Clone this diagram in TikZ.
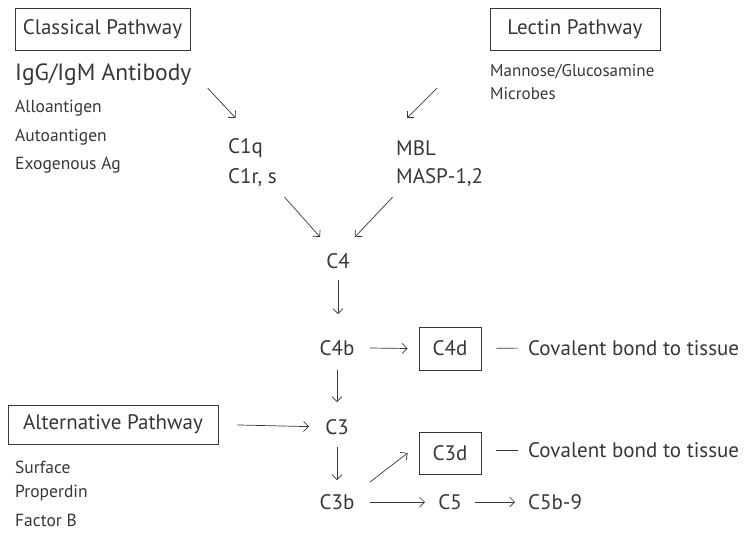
\documentclass[tikz,border=0pt]{standalone}
\usepackage{fontspec}
\setmainfont{PT Sans}
\usetikzlibrary{calc,arrows.meta}
\definecolor{inkgray}{RGB}{55,55,55}

\tikzset{
  >={Straight Barb[length=5pt,width=10pt]},
  pathbox/.style={draw=inkgray, line width=0.7pt, text=inkgray, inner sep=0pt, font=\fontsize{21}{24}\selectfont},
  comp/.style={inner sep=0pt, text=inkgray, font=\fontsize{21}{24}\selectfont},
  note/.style={inner sep=0pt, anchor=west, text=inkgray, font=\fontsize{17.5}{20}\selectfont},
  arr/.style={->, draw=inkgray, line width=0.7pt},
}

\begin{document}
\begin{tikzpicture}[x=1pt, y=-1pt]
    \useasboundingbox (0,0) rectangle (748,536);

    % classical pathway
    \node[pathbox, minimum width=175pt, minimum height=42pt] (classical) at (102.5,29) {Classical Pathway};
    \node[note, font=\fontsize{23.5}{26}\selectfont] (igg) at (15,75) {IgG/IgM Antibody};
    \node[note] (allo) at (15,108) {Alloantigen};
    \node[note] (auto) at (15,137) {Autoantigen};
    \node[note] (exo) at (15,165) {Exogenous Ag};

    % lectin pathway
    \node[pathbox, minimum width=170pt, minimum height=42pt] (lectin) at (575,29) {Lectin Pathway};
    \node[note, font=\fontsize{17}{20}\selectfont] (mannose) at (490,72) {Mannose/Glucosamine};
    \node[note, font=\fontsize{17}{20}\selectfont] (microbes) at (490,94) {Microbes};

    % early components
    \node[comp, anchor=west] (c1q) at (228,148) {C1q};
    \node[comp, anchor=west] (c1rs) at (228,178) {C1r, s};
    \node[comp, anchor=west] (mbl) at (396,148) {MBL};
    \node[comp, anchor=west] (masp) at (396,178) {MASP-1,2};
    \node[comp] (c4) at (338,261) {C4};
    \node[comp] (c4b) at (337,348) {C4b};
    \node[pathbox, minimum width=62pt, minimum height=43pt] (c4d) at (450,348.5) {C4d};
    \node[comp, anchor=west] (bond1) at (528,348) {Covalent bond to tissue};

    % alternative pathway
    \node[pathbox, minimum width=210pt, minimum height=39pt] (alt) at (113,424.5) {Alternative Pathway};
    \node[note] (surface) at (15,467) {Surface};
    \node[note] (properdin) at (15,493) {Properdin};
    \node[note] (factorb) at (15,520) {Factor B};

    % late components
    \node[comp] (c3) at (337,427) {C3};
    \node[comp] (c3b) at (337,502) {C3b};
    \node[pathbox, minimum width=62pt, minimum height=42pt] (c3d) at (450,453) {C3d};
    \node[comp, anchor=west] (bond2) at (528,450) {Covalent bond to tissue};
    \node[comp] (c5) at (450,502) {C5};
    \node[comp, anchor=west] (c5b9) at (528,502) {C5b-9};

    % connections
    \draw[arr] ($(c1q)+(-38,-60)$) -- ($(c1q)+(-10,-30)$);
    \draw[arr] ($(mbl)+(21,-60)$) -- ($(mbl)+(-9,-30)$);
    \draw[arr] ($(c1rs)+(32,19)$) -- ($(c4)+(-18,-24)$);
    \draw[arr] ($(masp)+(-47,19)$) -- ($(c4)+(17,-24)$);
    \draw[arr] ($(c4)+(0,19)$) -- ($(c4 |- c4b)+(0,-34)$);
    \draw[arr] ($(c4b)+(33,0)$) -- ($(c4d.west)+(-11,0)$);
    \draw[inkgray, line width=0.7pt, shorten <=15pt, shorten >=10pt] (c4d.east) -- (bond1.west);
    \draw[arr] ($(c4b)+(0,22)$) -- ($(c3)+(0,-25)$);
    \draw[arr, shorten <=19pt, shorten >=16pt] (alt.east) -- (c3.west);
    \draw[arr] ($(c3)+(0,20)$) -- ($(c3b)+(0,-22)$);
    \draw[arr] ($(c3b)+(33,-20)$) -- ($(c3d.west)+(-11,0)$);
    \draw[inkgray, line width=0.7pt, shorten <=15pt, shorten >=10pt] (c3d.east |- bond2) -- (bond2.west);
    \draw[arr] ($(c3b)+(33,0)$) -- ($(c5)+(-25,0)$);
    \draw[arr] ($(c5)+(25,0)$) -- ($(c5b9.west)+(-13,0)$);
\end{tikzpicture}
\end{document}
